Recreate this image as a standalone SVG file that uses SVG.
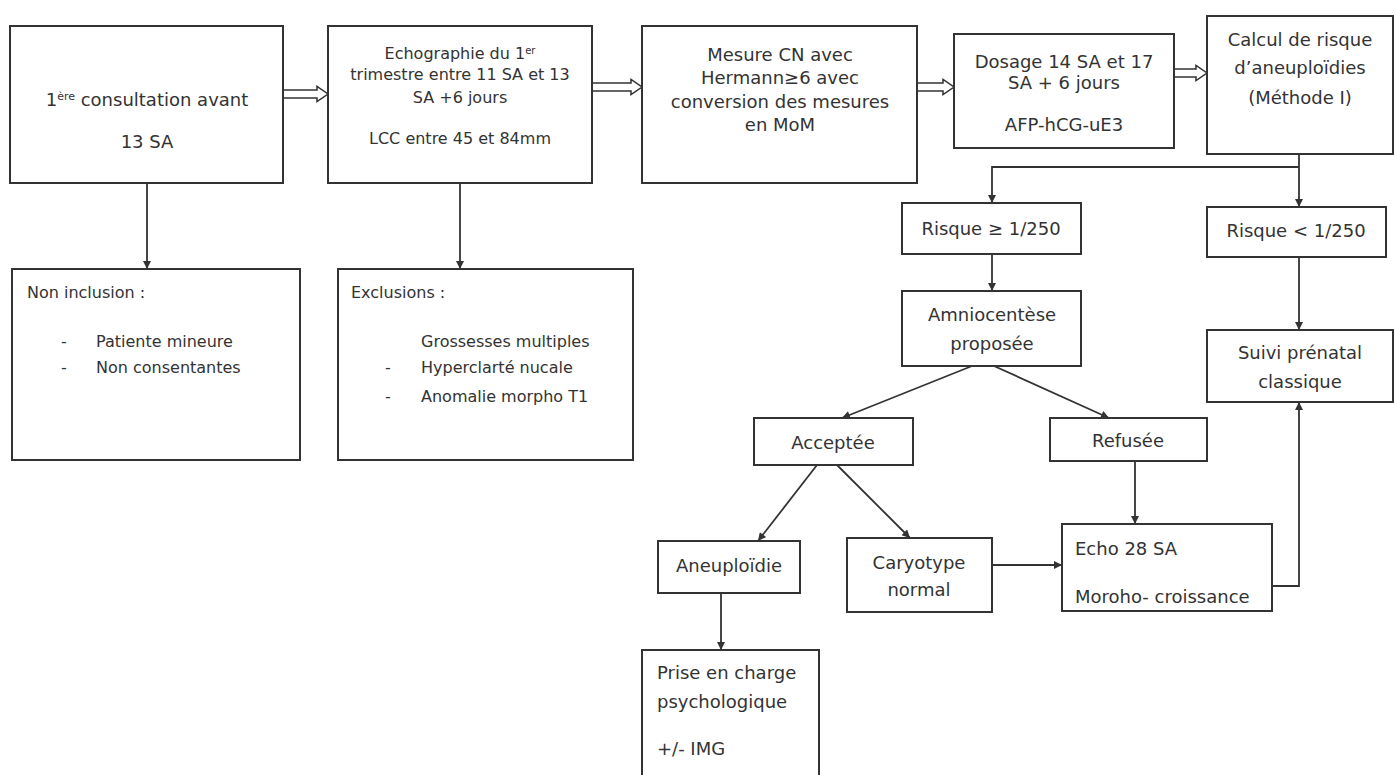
<svg xmlns="http://www.w3.org/2000/svg" width="1395" height="775" viewBox="0 0 1395 775">
<style>
  .box { fill: #ffffff; stroke: #333333; stroke-width: 2; }
  .t { font-family: "DejaVu Sans", Verdana, sans-serif; font-size: 18px; fill: #333333; }
  .s { font-size: 16px; }
  .c { text-anchor: middle; }
  .conn { fill: none; stroke: #333333; stroke-width: 1.8; }
  .dbl { fill: #ffffff; stroke: #333333; stroke-width: 1.5; stroke-linejoin: miter; }
</style>
<defs>
  <marker id="ah" viewBox="0 0 10 10" refX="10" refY="5" markerUnits="userSpaceOnUse" markerWidth="9" markerHeight="8" orient="auto">
    <path d="M0,0 L10,5 L0,10 z" fill="#333333"/>
  </marker>
</defs>
<rect width="1395" height="775" fill="#ffffff"/>

<g id="connectors">
  <polygon class="dbl" points="283,90 317,90 317,86.5 328,94 317,101.5 317,98 283,98"/>
  <polygon class="dbl" points="592,83 631,83 631,79.5 642,87 631,94.5 631,91 592,91"/>
  <polygon class="dbl" points="917,83 943,83 943,79.5 954,87 943,94.5 943,91 917,91"/>
  <polygon class="dbl" points="1174,69 1196,69 1196,65.5 1207,73 1196,80.5 1196,77 1174,77"/>
  <line class="conn" x1="147" y1="183" x2="147" y2="269" marker-end="url(#ah)"/>
  <line class="conn" x1="460" y1="183" x2="460" y2="269" marker-end="url(#ah)"/>
  <line class="conn" x1="1299" y1="154" x2="1299" y2="207" marker-end="url(#ah)"/>
  <polyline class="conn" points="1299,167 992,167 992,203" marker-end="url(#ah)"/>
  <line class="conn" x1="992" y1="254" x2="992" y2="291" marker-end="url(#ah)"/>
  <line class="conn" x1="1299" y1="257" x2="1299" y2="330" marker-end="url(#ah)"/>
  <line class="conn" x1="972" y1="366" x2="842" y2="418" marker-end="url(#ah)"/>
  <line class="conn" x1="994" y1="366" x2="1109" y2="418" marker-end="url(#ah)"/>
  <line class="conn" x1="817" y1="465" x2="758" y2="541" marker-end="url(#ah)"/>
  <line class="conn" x1="837" y1="465" x2="910" y2="538" marker-end="url(#ah)"/>
  <line class="conn" x1="1135" y1="461" x2="1135" y2="524" marker-end="url(#ah)"/>
  <line class="conn" x1="992" y1="565" x2="1062" y2="565" marker-end="url(#ah)"/>
  <polyline class="conn" points="1272,586 1299,586 1299,402" marker-end="url(#ah)"/>
  <line class="conn" x1="721" y1="593" x2="721" y2="650" marker-end="url(#ah)"/>
</g>

<g id="n1">
  <rect class="box" x="10" y="26" width="273" height="157"/>
  <text class="t c" x="147" y="106">1<tspan font-size="11" baseline-shift="super">ère</tspan> consultation avant</text>
  <text class="t c" x="147" y="148">13 SA</text>
</g>
<g id="n2">
  <rect class="box" x="328" y="26" width="264" height="157"/>
  <text class="t s c" x="460" y="59">Echographie  du 1<tspan font-size="10" baseline-shift="super">er</tspan></text>
  <text class="t s c" x="460" y="80">trimestre entre 11 SA et 13</text>
  <text class="t s c" x="460" y="103">SA +6 jours</text>
  <text class="t s c" x="460" y="144">LCC entre 45 et 84mm</text>
</g>
<g id="n3">
  <rect class="box" x="642" y="26" width="275" height="157"/>
  <text class="t c" x="780" y="61">Mesure CN avec</text>
  <text class="t c" x="780" y="84">Hermann≥6 avec</text>
  <text class="t c" x="780" y="108">conversion des mesures</text>
  <text class="t c" x="780" y="131">en MoM</text>
</g>
<g id="n4">
  <rect class="box" x="954" y="34" width="220" height="114"/>
  <text class="t c" x="1064" y="68">Dosage 14 SA et 17</text>
  <text class="t c" x="1064" y="89">SA + 6 jours</text>
  <text class="t c" x="1064" y="131">AFP-hCG-uE3</text>
</g>
<g id="n5">
  <rect class="box" x="1207" y="16" width="186" height="138"/>
  <text class="t c" x="1300" y="46">Calcul de risque</text>
  <text class="t c" x="1300" y="74">d’aneuploïdies</text>
  <text class="t c" x="1300" y="104">(Méthode I)</text>
</g>
<g id="n6">
  <rect class="box" x="12" y="269" width="288" height="191"/>
  <text class="t s" x="27" y="298">Non inclusion :</text>
  <text class="t s" x="61" y="347">-</text>
  <text class="t s" x="96" y="347">Patiente mineure</text>
  <text class="t s" x="61" y="373">-</text>
  <text class="t s" x="96" y="373">Non consentantes</text>
</g>
<g id="n7">
  <rect class="box" x="338" y="269" width="295" height="191"/>
  <text class="t s" x="351" y="298">Exclusions :</text>
  <text class="t s" x="421" y="347">Grossesses multiples</text>
  <text class="t s" x="385" y="373">-</text>
  <text class="t s" x="421" y="373">Hyperclarté nucale</text>
  <text class="t s" x="385" y="402">-</text>
  <text class="t s" x="421" y="402">Anomalie morpho T1</text>
</g>
<g id="n8">
  <rect class="box" x="902" y="203" width="179" height="51"/>
  <text class="t c" x="991" y="235">Risque ≥ 1/250</text>
</g>
<g id="n9">
  <rect class="box" x="1207" y="207" width="179" height="50"/>
  <text class="t c" x="1296" y="237">Risque &lt; 1/250</text>
</g>
<g id="n10">
  <rect class="box" x="902" y="291" width="179" height="75"/>
  <text class="t c" x="992" y="321">Amniocentèse</text>
  <text class="t c" x="992" y="350">proposée</text>
</g>
<g id="n11">
  <rect class="box" x="1207" y="330" width="186" height="72"/>
  <text class="t c" x="1300" y="359">Suivi prénatal</text>
  <text class="t c" x="1300" y="388">classique</text>
</g>
<g id="n12">
  <rect class="box" x="754" y="418" width="159" height="47"/>
  <text class="t c" x="833" y="449">Acceptée</text>
</g>
<g id="n13">
  <rect class="box" x="1050" y="418" width="157" height="43"/>
  <text class="t c" x="1128" y="447">Refusée</text>
</g>
<g id="n14">
  <rect class="box" x="658" y="541" width="142" height="52"/>
  <text class="t c" x="729" y="572">Aneuploïdie</text>
</g>
<g id="n15">
  <rect class="box" x="847" y="538" width="145" height="74"/>
  <text class="t c" x="919" y="569">Caryotype</text>
  <text class="t c" x="919" y="596">normal</text>
</g>
<g id="n16">
  <rect class="box" x="1062" y="524" width="210" height="87"/>
  <text class="t" x="1075" y="555">Echo 28 SA</text>
  <text class="t" x="1075" y="603">Moroho- croissance</text>
</g>
<g id="n17">
  <rect class="box" x="642" y="650" width="177" height="135"/>
  <text class="t" x="657" y="679">Prise en charge</text>
  <text class="t" x="657" y="708">psychologique</text>
  <text class="t" x="657" y="755">+/- IMG</text>
</g>
</svg>
